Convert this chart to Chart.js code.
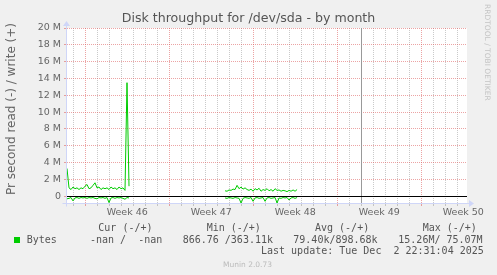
<!DOCTYPE html>
<html>
<head>
<meta charset="utf-8">
<script src="https://cdn.jsdelivr.net/npm/chart.js@4.4.1/dist/chart.umd.min.js"></script>
<style>
  html, body { margin: 0; padding: 0; background: #f0f0f0; }
  #wrap { position: relative; width: 497px; height: 275px; overflow: hidden; }
  #c { position: absolute; left: 0; top: 0; }
  .t { position: absolute; white-space: pre; color: #555; }
  .mono { font: 10px 'DejaVu Sans Mono', monospace; line-height: 12px; }
</style>
</head>
<body>
<div id="wrap">
  <canvas id="c" width="497" height="275"></canvas>
  <div class="t" style="left:0;width:497px;text-align:center;top:10px;font:12.6px 'DejaVu Sans';line-height:15px;">Disk throughput for /dev/sda - by month</div>
  <div class="t" style="left:11px;top:109px;transform:translate(-50%,-50%) rotate(-90deg);font:12px 'DejaVu Sans';color:#666;">Pr second read (-) / write (+)</div>
  <div class="t" style="left:482.5px;top:4px;writing-mode:vertical-rl;font:7.5px 'DejaVu Sans';line-height:9px;color:#c4c4c4;">RRDTOOL / TOBI OETIKER</div>
  <div id="legend"></div>
  <div class="t" style="left:0;width:495px;text-align:center;top:259.5px;font:7.5px 'DejaVu Sans';line-height:9px;color:#bbb;">Munin 2.0.73</div>
</div>
<script>
// x values are days since Monday of week 46 (10 Nov 2025)
var xStartDay = -1.52;
var xEndDay = 31.81;
var nowDay = 22.94;
var weekStarts = [0, 7, 14, 21, 28];
var weekLabels = ['Week 46', 'Week 47', 'Week 48', 'Week 49', 'Week 50'];
var yGridM = [0, 1, 2, 3, 4, 5, 6, 7, 8, 9, 10, 11, 12, 13, 14, 15, 16, 17, 18, 19, 20];

// samples every 4 hours, in MB/s
var stepHours = 4;
var segAStart = -1.52;
var writeA = [3.3, 1.0, 0.8, 1.1, 0.9, 1.0, 0.8, 1.0, 0.9, 1.2, 1.4, 0.9, 1.0, 1.3, 1.6, 1.0,
              1.1, 0.8, 1.0, 0.9, 1.0, 0.8, 1.1, 0.9, 1.0, 0.8, 1.1, 0.9, 1.0, 0.7, 13.5, 1.2];
var readA = [0.3, 0.25, 0.15, 0.55, 0.2, 0.15, 0.25, 0.15, 0.2, 0.15, 0.25, 0.15, 0.2, 0.15, 0.25, 0.3,
             0.15, 0.2, 0.15, 0.25, 0.15, 0.75, 0.2, 0.15, 0.25, 0.15, 0.2, 0.15, 0.25, 0.35, 0.15, 0.2];
var segBStart = 11.65;
var writeB = [0.65, 0.6, 0.75, 0.7, 0.85, 0.8, 1.3, 0.9, 1.1, 0.85, 1.0, 0.8, 0.7, 0.85, 0.6, 0.9,
              0.75, 0.95, 0.6, 0.8, 0.7, 0.9, 0.65, 0.8, 0.6, 0.9, 0.7, 0.75, 0.6, 0.7, 0.65, 0.55,
              0.7, 0.6, 0.75, 0.6, 0.8];
var readB = [0.2, 0.25, 0.15, 0.2, 0.25, 0.15, 0.2, 0.25, 0.8, 0.25, 0.15, 0.2, 0.25, 0.15, 0.6, 0.2,
             0.15, 0.25, 0.2, 0.15, 0.6, 0.2, 0.15, 0.25, 0.2, 0.15, 0.8, 0.2, 0.25, 0.15, 0.2, 0.15,
             0.45, 0.2, 0.15, 0.25, 0.15];

var legendHead = [['Cur (-/+)', 98.3], ['Min (-/+)', 206.7], ['Avg (-/+)', 315], ['Max (-/+)', 422.7]];
var legendRow = [['Bytes', 26.7], ['-nan /  -nan', 90], ['866.76 /363.11k', 182.7],
                 ['79.40k/898.68k', 293.3], ['15.26M/ 75.07M', 398.3]];
var lastUpdate = 'Last update: Tue Dec  2 22:31:04 2025';

var green = '#00cc00';
var majorCol = 'rgba(220,90,90,0.55)';
var minorCol = 'rgba(150,150,150,0.5)';

function points(start, vals, sign) {
  return vals.map(function (v, i) { return { x: start + i * stepHours / 24, y: sign * v * 1e6 }; });
}
var gapX = (segAStart + writeA.length * stepHours / 24 + segBStart) / 2;
var writePts = points(segAStart, writeA, 1).concat([{ x: gapX, y: null }], points(segBStart, writeB, 1));
var readPts = points(segAStart, readA, -1).concat([{ x: gapX, y: null }], points(segBStart, readB, -1));

// legend text
var lg = document.getElementById('legend');
function addText(txt, left, top) {
  var d = document.createElement('div');
  d.className = 't mono';
  d.style.left = left + 'px';
  d.style.top = top + 'px';
  d.textContent = txt;
  lg.appendChild(d);
}
legendHead.forEach(function (h) { addText(h[0], h[1], 221.5); });
legendRow.forEach(function (h) { addText(h[0], h[1], 233.5); });
addText(lastUpdate, 261, 245);
var sq = document.createElement('div');
sq.style.cssText = 'position:absolute;left:14px;top:237px;width:6px;height:6px;background:' + green;
lg.appendChild(sq);

var xTicks = [];
for (var d = Math.ceil(xStartDay); d <= xEndDay; d++) xTicks.push(d);
weekStarts.forEach(function (w) { xTicks.push(w + 3.5); });
xTicks.sort(function (a, b) { return a - b; });

function xKind(v) {
  if (!Number.isInteger(v)) return 'label';
  return (((v % 7) + 7) % 7 === 0) ? 'major' : 'minor';
}

var decor = {
  id: 'decor',
  beforeDraw: function (chart) {
    var a = chart.chartArea;
    chart.ctx.save();
    chart.ctx.fillStyle = '#fff';
    chart.ctx.fillRect(a.left, a.top, a.right - a.left, a.bottom - a.top);
    chart.ctx.restore();
  },
  afterDatasetsDraw: function (chart) {
    var ctx = chart.ctx, a = chart.chartArea;
    var xs = chart.scales.x, ys = chart.scales.y;
    ctx.save();
    // now marker
    var nx = Math.round(xs.getPixelForValue(nowDay)) + 0.5;
    ctx.strokeStyle = '#999';
    ctx.lineWidth = 1;
    ctx.beginPath(); ctx.moveTo(nx, a.top); ctx.lineTo(nx, a.bottom); ctx.stroke();
    // zero line
    var zy = Math.round(ys.getPixelForValue(0)) + 0.5;
    ctx.strokeStyle = '#000';
    ctx.beginPath(); ctx.moveTo(a.left, zy); ctx.lineTo(a.right, zy); ctx.stroke();
    // axes with arrows
    var ax = Math.round(a.left) - 0.5, ay = Math.round(a.bottom) + 0.5;
    ctx.strokeStyle = '#cfd6f8';
    ctx.fillStyle = '#cfd6f8';
    ctx.beginPath();
    ctx.moveTo(ax, ay + 3); ctx.lineTo(ax, a.top - 3);
    ctx.moveTo(ax - 4, ay); ctx.lineTo(a.right + 3, ay);
    ctx.stroke();
    ctx.beginPath();
    ctx.moveTo(ax - 3.5, a.top - 2); ctx.lineTo(ax + 3.5, a.top - 2); ctx.lineTo(ax, a.top - 7); ctx.closePath();
    ctx.fill();
    ctx.beginPath();
    ctx.moveTo(a.right + 2, ay - 3.5); ctx.lineTo(a.right + 2, ay + 3.5); ctx.lineTo(a.right + 7, ay); ctx.closePath();
    ctx.fill();
    ctx.restore();
  }
};

Chart.defaults.font.family = "'DejaVu Sans'";

var myChart = new Chart(document.getElementById('c'), {
  type: 'line',
  data: {
    datasets: [
      { label: 'write', data: writePts, borderColor: green, borderWidth: 1, pointRadius: 0, tension: 0, spanGaps: false },
      { label: 'read', data: readPts, borderColor: green, borderWidth: 1, pointRadius: 0, tension: 0, spanGaps: false }
    ]
  },
  options: {
    responsive: false,
    animation: false,
    devicePixelRatio: 1,
    layout: { padding: { top: 28, right: 30, bottom: 52, left: 0 } },
    plugins: { legend: { display: false }, tooltip: { enabled: false }, title: { display: false } },
    scales: {
      x: {
        type: 'linear',
        min: xStartDay,
        max: xEndDay,
        afterBuildTicks: function (s) { s.ticks = xTicks.map(function (v) { return { value: v }; }); },
        afterFit: function (s) { s.height = 20; },
        ticks: {
          autoSkip: false, maxRotation: 0, minRotation: 0, padding: 1,
          color: '#666', font: { size: 9.5 },
          callback: function (v) {
            var i = weekStarts.indexOf(v - 3.5);
            return i >= 0 ? weekLabels[i] : '';
          }
        },
        border: { display: false, dash: [1, 1] },
        grid: {
          tickLength: 3,
          color: function (c) {
            var k = xKind(c.tick.value);
            return k === 'major' ? majorCol : (k === 'minor' ? minorCol : 'rgba(0,0,0,0)');
          },
          tickColor: function (c) {
            var k = xKind(c.tick.value);
            return k === 'major' ? majorCol : (k === 'minor' ? minorCol : 'rgba(0,0,0,0)');
          }
        }
      },
      y: {
        min: -0.8e6,
        max: 20e6,
        afterBuildTicks: function (s) { s.ticks = yGridM.map(function (v) { return { value: v * 1e6 }; }); },
        afterFit: function (s) { s.width = 67; },
        ticks: {
          padding: 3, color: '#666', font: { size: 9.5 },
          callback: function (v) {
            var m = Math.round(v / 1e6);
            if (m === 0) return '0';
            return m % 2 === 0 ? m + ' M' : '';
          }
        },
        border: { display: false, dash: [1, 1] },
        grid: {
          tickLength: 3,
          color: function (c) {
            var m = Math.round(c.tick.value / 1e6);
            if (m === 0) return 'rgba(0,0,0,0)';
            return m % 2 === 0 ? majorCol : minorCol;
          },
          tickColor: function (c) {
            var m = Math.round(c.tick.value / 1e6);
            return m % 2 === 0 ? majorCol : 'rgba(0,0,0,0)';
          }
        }
      }
    }
  },
  plugins: [decor]
});
</script>
</body>
</html>
